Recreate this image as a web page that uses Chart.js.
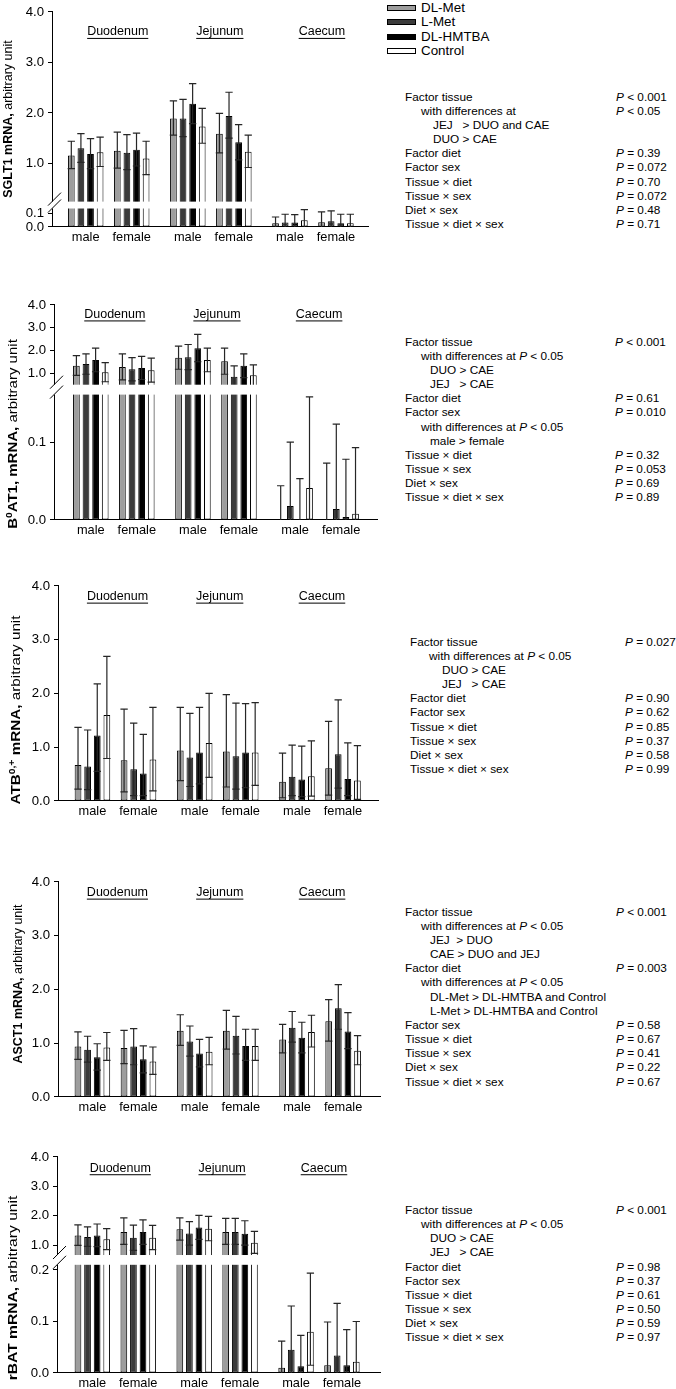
<!DOCTYPE html>
<html>
<head>
<meta charset="utf-8">
<script src="https://cdn.jsdelivr.net/npm/chart.js@4.4.0/dist/chart.umd.min.js"></script>
<style>
  body { margin: 0; background: #fff; font-family: "Liberation Sans", Arial, sans-serif; }
  #page { position: relative; width: 676px; height: 1389px; overflow: hidden; }
  canvas { position: absolute; left: 0; }
  .t { position: absolute; font-size: 11.8px; line-height: 14px; white-space: pre; color: #000; }
  .lg { position: absolute; font-size: 13.4px; line-height: 14px; white-space: nowrap; }
  .sw { position: absolute; width: 27px; height: 4px; border: 1px solid #000; }
</style>
</head>
<body>
<div id="page"></div>
<script>
const tissues = ["Duodenum", "Jejunum", "Caecum"];
const sexes = ["male", "female"];
const diets = ["DL-Met", "L-Met", "DL-HMTBA", "Control"];
const dietColors = ["#9d9d9d", "#3b3b3b", "#000000", "#ffffff"];

// rows = diets, columns = Duo male, Duo female, Jej male, Jej female, Cae male, Cae female
const sglt1Mean = [
  [1.16, 1.25, 1.89, 1.59, 0.027, 0.034],
  [1.30, 1.21, 1.89, 1.94, 0.032, 0.042],
  [1.19, 1.27, 2.18, 1.42, 0.032, 0.027],
  [1.22, 1.10, 1.73, 1.23, 0.049, 0.027]
];
const sglt1Hi = [
  [1.44, 1.62, 2.24, 1.99, 0.073, 0.110],
  [1.59, 1.57, 2.27, 2.41, 0.093, 0.117],
  [1.49, 1.60, 2.58, 1.77, 0.090, 0.093],
  [1.52, 1.44, 2.09, 1.56, 0.127, 0.093]
];
const sglt1Lo = [
  [0.90, 0.91, 1.56, 1.21, 0, 0],
  [1.02, 0.88, 1.53, 1.50, 0, 0],
  [0.90, 0.95, 1.79, 1.07, 0, 0],
  [0.94, 0.78, 1.40, 0.92, 0, 0]
];

const b0at1Mean = [
  [1.32, 1.27, 1.68, 1.52, 0.001, 0.001],
  [1.40, 1.17, 1.70, 0.84, 0.018, 0.014],
  [1.58, 1.23, 2.09, 1.32, 0.001, 0.004],
  [1.04, 1.13, 1.58, 0.91, 0.041, 0.008]
];
const b0at1Hi = [
  [1.77, 1.85, 2.19, 2.10, 0.044, 0.073],
  [1.85, 1.68, 2.26, 1.32, 0.100, 0.123],
  [2.10, 1.74, 2.70, 1.85, 0.053, 0.078],
  [1.46, 1.66, 2.10, 1.36, 0.158, 0.093]
];
const b0at1Lo = [
  [0.90, 0.70, 1.17, 0.95, 0, 0],
  [0.95, 0.66, 1.15, 0.40, 0, 0],
  [1.06, 0.72, 1.50, 0.80, 0, 0],
  [0.62, 0.60, 1.06, 0.46, 0, 0]
];

const atbMean = [
  [0.67, 0.76, 0.94, 0.92, 0.36, 0.61],
  [0.64, 0.59, 0.81, 0.83, 0.45, 0.87],
  [1.22, 0.51, 0.90, 0.90, 0.40, 0.41],
  [1.60, 0.77, 1.08, 0.90, 0.46, 0.38]
];
const atbHi = [
  [1.37, 1.71, 1.74, 1.98, 0.89, 1.48],
  [1.32, 1.45, 1.63, 1.82, 1.04, 1.88],
  [2.18, 1.24, 1.74, 1.81, 1.02, 1.08],
  [2.69, 1.74, 2.00, 1.83, 1.12, 1.03]
];
const atbLo = [
  [0.22, 0.17, 0.38, 0.26, 0.06, 0.11],
  [0.21, 0.10, 0.27, 0.22, 0.10, 0.24],
  [0.55, 0.10, 0.32, 0.25, 0.08, 0.10],
  [0.79, 0.19, 0.44, 0.29, 0.09, 0.03]
];

const asct1Mean = [
  [0.94, 0.91, 1.23, 1.23, 1.07, 1.41],
  [0.88, 0.94, 1.03, 1.14, 1.29, 1.65],
  [0.74, 0.70, 0.81, 0.95, 1.10, 1.22],
  [0.92, 0.66, 0.84, 0.95, 1.21, 0.86]
];
const asct1Hi = [
  [1.21, 1.24, 1.53, 1.61, 1.35, 1.81],
  [1.13, 1.27, 1.32, 1.50, 1.59, 2.09],
  [0.99, 0.95, 1.07, 1.26, 1.39, 1.57],
  [1.20, 0.93, 1.11, 1.26, 1.52, 1.14]
];
const asct1Lo = [
  [0.70, 0.62, 0.96, 0.89, 0.82, 1.04],
  [0.65, 0.60, 0.76, 0.80, 1.02, 1.26],
  [0.50, 0.45, 0.56, 0.68, 0.82, 0.90],
  [0.68, 0.42, 0.60, 0.68, 0.93, 0.60]
];

const rbatMean = [
  [1.33, 1.45, 1.54, 1.45, 0.010, 0.015],
  [1.28, 1.25, 1.40, 1.45, 0.045, 0.034],
  [1.33, 1.45, 1.60, 1.39, 0.013, 0.015],
  [1.20, 1.25, 1.56, 1.08, 0.080, 0.022]
];
const rbatHi = [
  [1.69, 1.93, 1.93, 1.91, 0.062, 0.099],
  [1.62, 1.68, 1.80, 1.91, 0.130, 0.135],
  [1.72, 1.86, 2.01, 1.83, 0.073, 0.084],
  [1.56, 1.67, 1.98, 1.47, 0.194, 0.100]
];
const rbatLo = [
  [0.99, 1.03, 1.17, 1.03, 0, 0],
  [0.96, 0.82, 1.00, 1.03, 0, 0],
  [0.95, 1.03, 1.20, 1.00, 0, 0],
  [0.85, 0.85, 1.15, 0.72, 0.015, 0]
];

const ticksBroken01 = [0, 0.1, 1, 2, 3, 4];
const ticksPlain = [0, 1, 2, 3, 4];
const ticksBroken02 = [0, 0.1, 0.2, 1, 2, 3, 4];

const statsSglt1 = [
  [0, "Factor tissue", "P < 0.001"],
  [1, "with differences at", "P < 0.05"],
  [2, "JEJ   > DUO and CAE", ""],
  [2, "DUO > CAE", ""],
  [0, "Factor diet", "P = 0.39"],
  [0, "Factor sex", "P = 0.072"],
  [0, "Tissue × diet", "P = 0.70"],
  [0, "Tissue × sex", "P = 0.072"],
  [0, "Diet × sex", "P = 0.48"],
  [0, "Tissue × diet × sex", "P = 0.71"]
];
const statsB0at1 = [
  [0, "Factor tissue", "P < 0.001"],
  [1, "with differences at P < 0.05", ""],
  [2, "DUO > CAE", ""],
  [2, "JEJ   > CAE", ""],
  [0, "Factor diet", "P = 0.61"],
  [0, "Factor sex", "P = 0.010"],
  [1, "with differences at P < 0.05", ""],
  [2, "male > female", ""],
  [0, "Tissue × diet", "P = 0.32"],
  [0, "Tissue × sex", "P = 0.053"],
  [0, "Diet × sex", "P = 0.69"],
  [0, "Tissue × diet × sex", "P = 0.89"]
];
const statsAtb = [
  [0, "Factor tissue", "P = 0.027"],
  [1, "with differences at P < 0.05", ""],
  [2, "DUO > CAE", ""],
  [2, "JEJ   > CAE", ""],
  [0, "Factor diet", "P = 0.90"],
  [0, "Factor sex", "P = 0.62"],
  [0, "Tissue × diet", "P = 0.85"],
  [0, "Tissue × sex", "P = 0.37"],
  [0, "Diet × sex", "P = 0.58"],
  [0, "Tissue × diet × sex", "P = 0.99"]
];
const statsAsct1 = [
  [0, "Factor tissue", "P < 0.001"],
  [1, "with differences at P < 0.05", ""],
  [2, "JEJ  > DUO", ""],
  [2, "CAE > DUO and JEJ", ""],
  [0, "Factor diet", "P = 0.003"],
  [1, "with differences at P < 0.05", ""],
  [2, "DL-Met > DL-HMTBA and Control", ""],
  [2, "L-Met > DL-HMTBA and Control", ""],
  [0, "Factor sex", "P = 0.58"],
  [0, "Tissue × diet", "P = 0.67"],
  [0, "Tissue × sex", "P = 0.41"],
  [0, "Diet × sex", "P = 0.22"],
  [0, "Tissue × diet × sex", "P = 0.67"]
];
const statsRbat = [
  [0, "Factor tissue", "P < 0.001"],
  [1, "with differences at P < 0.05", ""],
  [2, "DUO > CAE", ""],
  [2, "JEJ   > CAE", ""],
  [0, "Factor diet", "P = 0.98"],
  [0, "Factor sex", "P = 0.37"],
  [0, "Tissue × diet", "P = 0.61"],
  [0, "Tissue × sex", "P = 0.50"],
  [0, "Diet × sex", "P = 0.59"],
  [0, "Tissue × diet × sex", "P = 0.97"]
];

const FONT = '"Liberation Sans", Arial, sans-serif';
Chart.defaults.font.family = FONT;
Chart.defaults.color = "#000";

// linear scale with an optional cut between two value ranges
class BrokenScale extends Chart.LinearScale {
  _frac(v) {
    const b = this._brk;
    if (!b) return (v - this.min) / (this.max - this.min);
    if (v <= b.lowMax) return v / b.lowMax * b.lowFrac;
    if (v >= b.highMin) return b.highFrac + (v - b.highMin) / (this.max - b.highMin) * (1 - b.highFrac);
    return b.lowFrac + (v - b.lowMax) / (b.highMin - b.lowMax) * (b.highFrac - b.lowFrac);
  }
  getPixelForValue(v) {
    if (v === null || v === undefined) return NaN;
    return this.bottom - this._frac(v) * (this.bottom - this.top);
  }
  getValueForPixel(px) {
    const f = (this.bottom - px) / (this.bottom - this.top);
    const b = this._brk;
    if (!b) return this.min + f * (this.max - this.min);
    if (f <= b.lowFrac) return f / b.lowFrac * b.lowMax;
    if (f >= b.highFrac) return b.highMin + (f - b.highFrac) / (1 - b.highFrac) * (this.max - b.highMin);
    return b.lowMax + (f - b.lowFrac) / (b.highFrac - b.lowFrac) * (b.highMin - b.lowMax);
  }
}
BrokenScale.id = "broken";
BrokenScale.defaults = {};
Chart.register(BrokenScale);

const tissueStep = 2.22;
const groupX = [];
tissues.forEach((t, ti) => sexes.forEach((s, si) => groupX.push(ti * tissueStep + si)));

const panels = [
  { mean: sglt1Mean, hi: sglt1Hi, lo: sglt1Lo, ticks: ticksBroken01,
    axisX: 52, right: 368, y4: 9, y0: 227, xMin: -0.733, xMax: 6.137,
    brk: { lowMax: 0.135, lowFrac: 0.086, highMin: 0.245, highFrac: 0.118 },
    titleDy: 20, titleShift: 9,
    yTitle: { x: 9, y: 119, sx: 1, parts: [["SGLT1 mRNA,", 1], [" arbitrary unit", 0]] },
    stats: statsSglt1, statsY: 96.7, statsX: [405, 421, 433], pX: 616 },
  { mean: b0at1Mean, hi: b0at1Hi, lo: b0at1Lo, ticks: ticksBroken01,
    axisX: 54, right: 377, y4: 302, y0: 520, xMin: -0.80, xMax: 6.22,
    brk: { lowMax: 0.161, lowFrac: 0.583, highMin: 0.49, highFrac: 0.629 },
    titleDy: 9.5, titleShift: 1,
    yTitle: { x: 14, y: 434, sx: 1.2, parts: [["B", 1], ["0", 2], ["AT1, mRNA,", 1], [" arbitrary unit", 0]] },
    stats: statsB0at1, statsY: 341.7, statsX: [405, 421, 430], pX: 615 },
  { mean: atbMean, hi: atbHi, lo: atbLo, ticks: ticksPlain,
    axisX: 58, right: 378, y4: 583, y0: 801, xMin: -0.748, xMax: 6.2,
    brk: null,
    titleDy: 10.7, titleShift: 2,
    yTitle: { x: 17, y: 710, sx: 1.22, parts: [["ATB", 1], ["0,+", 2], [" mRNA,", 1], [" arbitrary unit", 0]] },
    stats: statsAtb, statsY: 641.7, statsX: [410, 429, 442], pX: 625 },
  { mean: asct1Mean, hi: asct1Hi, lo: asct1Lo, ticks: ticksPlain,
    axisX: 58, right: 380, y4: 879, y0: 1097, xMin: -0.746, xMax: 6.24,
    brk: null,
    titleDy: 10.7, titleShift: 2,
    yTitle: { x: 19, y: 984, sx: 1, parts: [["ASCT1 mRNA,", 1], [" arbitrary unit", 0]] },
    stats: statsAsct1, statsY: 911.7, statsX: [405, 421, 430], pX: 616 },
  { mean: rbatMean, hi: rbatHi, lo: rbatLo, ticks: ticksBroken02,
    axisX: 57, right: 380, y4: 1154, y0: 1373, xMin: -0.77, xMax: 6.27,
    brk: { lowMax: 0.21, lowFrac: 0.5007, highMin: 0.665, highFrac: 0.546 },
    titleDy: 11.3, titleShift: 5,
    yTitle: { x: 14, y: 1288, sx: 1.25, parts: [["rBAT mRNA,", 1], [" arbitrary unit", 0]] },
    stats: statsRbat, statsY: 1210, statsX: [405, 421, 430], pX: 616 }
];

const PAD_TOP = 9, X_AXIS_H = 26;

function decor(p, canvasTop) {
  return {
    id: "decor",
    afterDatasetsDraw(chart) {
      const { ctx, chartArea: a, scales: { y } } = chart;
      ctx.save();
      ctx.strokeStyle = "#262626";
      ctx.lineWidth = 1.2;
      chart.data.datasets.forEach((ds, di) => {
        chart.getDatasetMeta(di).data.forEach((bar, i) => {
          const hw = bar.width / 2 + 0.3;
          const yh = y.getPixelForValue(p.hi[di][i]);
          const yl = y.getPixelForValue(p.lo[di][i]);
          ctx.beginPath();
          ctx.moveTo(bar.x, yl);
          ctx.lineTo(bar.x, yh);
          ctx.moveTo(bar.x - hw, yh);
          ctx.lineTo(bar.x + hw, yh);
          if (p.lo[di][i] > 0) {
            ctx.moveTo(bar.x - hw, yl);
            ctx.lineTo(bar.x + hw, yl);
          }
          ctx.stroke();
        });
      });
      if (p.brk) {
        const yTop = y.getPixelForValue(p.brk.highMin);
        const yBot = y.getPixelForValue(p.brk.lowMax);
        ctx.fillStyle = "#fff";
        ctx.fillRect(a.left - 2, yTop, a.right - a.left + 4, yBot - yTop);
        ctx.strokeStyle = "#000";
        ctx.lineWidth = 1;
        ctx.beginPath();
        [yTop, yBot].forEach(e => {
          ctx.moveTo(a.left - 4, e + 4);
          ctx.lineTo(a.left + 9, e - 9);
        });
        ctx.stroke();
      }
      ctx.restore();
    },
    afterDraw(chart) {
      const { ctx, chartArea: a, scales: { x } } = chart;
      ctx.save();
      // tissue headings
      ctx.font = "12.5px " + FONT;
      ctx.fillStyle = "#000";
      ctx.textAlign = "center";
      ctx.textBaseline = "middle";
      tissues.forEach((t, ti) => {
        const cx = x.getPixelForValue(ti * tissueStep + 0.5) + p.titleShift;
        const cy = a.top + p.titleDy;
        ctx.fillText(t, cx, cy);
        const w = ctx.measureText(t).width;
        ctx.fillRect(cx - w / 2, cy + 6, w, 1);
      });
      // rotated y title with bold part and superscripts
      const yt = p.yTitle;
      const fontOf = k => k === 2 ? "bold 8.5px " + FONT : (k === 1 ? "bold 12.5px " : "12.5px ") + FONT;
      let total = 0;
      yt.parts.forEach(([s, k]) => { ctx.font = fontOf(k); total += ctx.measureText(s).width; });
      ctx.translate(yt.x, yt.y - canvasTop);
      ctx.rotate(-Math.PI / 2);
      ctx.scale(yt.sx, 1);
      ctx.textAlign = "left";
      let cur = -total / 2;
      yt.parts.forEach(([s, k]) => {
        ctx.font = fontOf(k);
        ctx.fillText(s, cur, k === 2 ? -4.5 : 0);
        cur += ctx.measureText(s).width;
      });
      ctx.restore();
    }
  };
}

const page = document.getElementById("page");

panels.forEach(p => {
  const top = p.y4 - PAD_TOP;
  const W = p.right + 8;
  const H = PAD_TOP + (p.y0 - p.y4) + X_AXIS_H;
  const cv = document.createElement("canvas");
  cv.width = W;
  cv.height = H;
  cv.style.top = top + "px";
  cv.style.width = W + "px";
  cv.style.height = H + "px";
  page.appendChild(cv);

  new Chart(cv, {
    type: "bar",
    data: {
      datasets: diets.map((d, di) => ({
        label: d,
        data: groupX.map((gx, gi) => ({ x: gx, y: p.mean[di][gi] })),
        backgroundColor: dietColors[di],
        borderColor: "#000",
        borderWidth: 1,
        borderSkipped: false,
        categoryPercentage: 0.835,
        barPercentage: 0.7
      }))
    },
    options: {
      responsive: false,
      animation: false,
      devicePixelRatio: 1,
      layout: { padding: { top: PAD_TOP, right: W - p.right, left: 0, bottom: 0 } },
      plugins: { legend: { display: false }, tooltip: { enabled: false } },
      scales: {
        x: {
          type: "linear",
          min: p.xMin,
          max: p.xMax,
          offset: false,
          afterBuildTicks: s => { s.ticks = groupX.map(v => ({ value: v })); },
          afterFit: s => { s.height = X_AXIS_H; },
          grid: { display: false, drawTicks: false },
          border: { display: true, color: "#000", width: 1 },
          ticks: {
            autoSkip: false, maxRotation: 0, minRotation: 0, padding: 3,
            font: { size: 12.8 },
            callback: (v, i) => sexes[i % 2]
          }
        },
        y: {
          type: "broken",
          min: 0,
          max: 4,
          afterDataLimits: s => { s._brk = p.brk; },
          afterBuildTicks: s => { s.ticks = p.ticks.map(v => ({ value: v })); },
          afterFit: s => { s.width = p.axisX; },
          grid: { display: true, drawOnChartArea: false, drawTicks: true, tickLength: 4, color: "#000" },
          border: { display: true, color: "#000", width: 1 },
          ticks: { autoSkip: false, padding: 4, font: { size: 13.2 }, callback: v => v.toFixed(1) }
        }
      }
    },
    plugins: [decor(p, top)]
  });
});

// statistics text beside each panel
const fmt = s => s.replace(/&/g, "&amp;").replace(/</g, "&lt;").replace(/>/g, "&gt;").replace(/\bP\b/g, "<i>P</i>");
panels.forEach(p => {
  p.stats.forEach(([lvl, txt, pv], i) => {
    const cy = p.statsY + i * 14.15;
    const d = document.createElement("div");
    d.className = "t";
    d.style.left = p.statsX[lvl] + "px";
    d.style.top = (cy - 7) + "px";
    d.innerHTML = fmt(txt);
    page.appendChild(d);
    if (pv) {
      const e = document.createElement("div");
      e.className = "t";
      e.style.left = p.pX + "px";
      e.style.top = (cy - 7) + "px";
      e.innerHTML = fmt(pv);
      page.appendChild(e);
    }
  });
});

// legend
diets.forEach((d, i) => {
  const cy = 7.5 + i * 14.5;
  const sw = document.createElement("div");
  sw.className = "sw";
  sw.style.left = "387px";
  sw.style.top = (cy - 3) + "px";
  sw.style.background = dietColors[i];
  page.appendChild(sw);
  const t = document.createElement("div");
  t.className = "lg";
  t.style.left = "421px";
  t.style.top = (cy - 7) + "px";
  t.textContent = d;
  page.appendChild(t);
});
</script>
</body>
</html>
